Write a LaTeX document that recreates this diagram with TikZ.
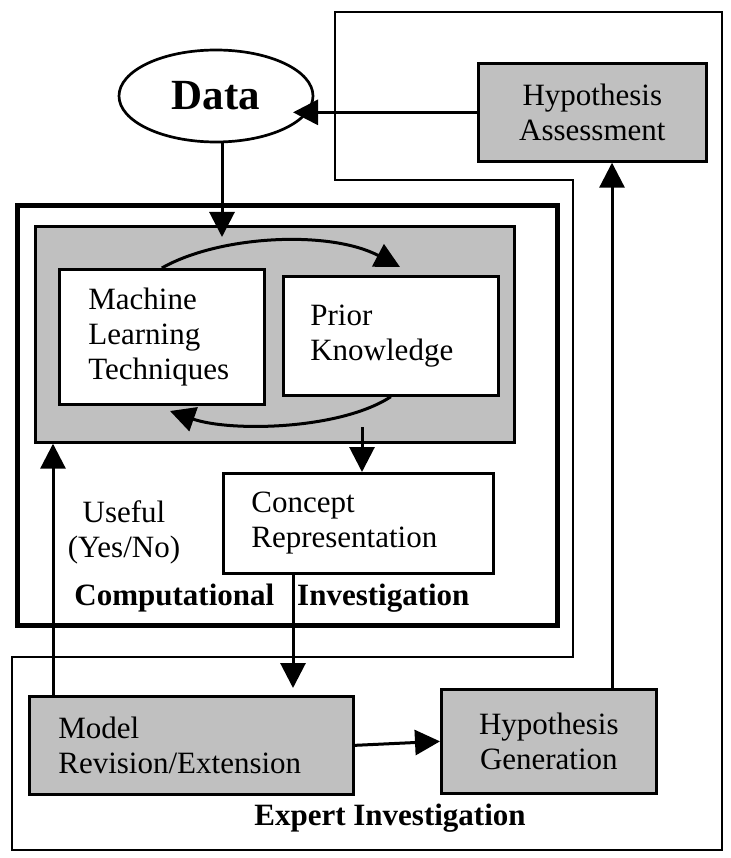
\documentclass[tikz,border=0pt]{standalone}
\usepackage{fontspec}
\setmainfont{Liberation Serif}
\usetikzlibrary{arrows.meta,shapes.geometric,calc}
\definecolor{boxgray}{RGB}{192,192,192}
\begin{document}
\begin{tikzpicture}[x=1pt,y=-1pt,
  txt/.style={font=\fontsize{31}{35}\selectfont},
  wbox/.style={draw, line width=2.7pt, fill=white, txt, inner ysep=0pt, anchor=north west},
  gbox/.style={wbox, fill=boxgray},
  arr/.style={line width=3pt, -{Triangle[length=25pt,width=25pt]}},
  lbl/.style={font=\fontsize{31}{36}\selectfont\bfseries}
]
\path[use as bounding box] (0,0) rectangle (730,858);

% outer boundary (expert investigation region)
\draw[line width=2.5pt] (335,12) -- (722,12) -- (722,850) -- (12,850) -- (12,657)
  -- (573,657) -- (573,180) -- (335,180) -- cycle;

% computational investigation box
\node (comp) [draw, line width=5pt, minimum width=540, minimum height=420,
  anchor=north west, inner sep=0] at (15,203) {};
% grey learning box
\node (ml) [draw, line width=2.7pt, fill=boxgray, minimum width=479, minimum height=216,
  anchor=north west, inner sep=0] at (34,225) {};

\node (data) [ellipse, draw, line width=2.7pt, fill=white, minimum width=194, minimum height=92,
  inner sep=0, font=\fontsize{43}{43}\selectfont\bfseries] at (216,96) {Data};

\node (ha) [gbox, text width=200, inner xsep=14, minimum height=98, align=center] at (477,62) {Hypothesis\\Assessment};
\node (mlt) [wbox, text width=147, inner xsep=29, minimum height=135, align=left] at (58,268) {Machine\\Learning\\Techniques};
\node (pk) [wbox, text width=161, inner xsep=27, minimum height=119, align=left] at (282,275) {Prior\\Knowledge};
\node (cr) [wbox, text width=214, inner xsep=28, minimum height=100, align=left] at (222,472) {Concept\\Representation};
\node (mr) [gbox, text width=266, inner xsep=29, minimum height=98, align=left] at (28,695) {Model\\Revision/Extension};
\node (hg) [gbox, text width=185, inner xsep=15, minimum height=104, align=center] at (440,688) {Hypothesis\\Generation};

\node (useful) [txt, align=center] at (124,532) {Useful\\(Yes/No)};
\node (ci) [lbl] at (272,598) {Computational\hspace{23pt}Investigation};
\node (ei) [lbl] at (390,818) {Expert Investigation};

% helper coordinates
\coordinate (datain) at (293,108);
\coordinate (mlin) at (222,237);
\coordinate (pkin) at (400,267);
\coordinate (mltin) at (170,411);
\coordinate (cfrom) at (362,427);
\coordinate (mrin) at (293,688);
\coordinate (mlup) at (53,0);
\coordinate (haup) at (612,0);

% connectors
\draw[arr] (ha.west) -- (ha.west -| datain);
\draw[arr] (data.south -| mlin) -- (mlin);
\draw[arr] (mlt.north) .. controls (220,235) and (330,230) .. (pkin);
\draw[arr] (pk.south) .. controls (340,430) and (230,432) .. (mltin);
\draw[arr] (cfrom) -- (cfrom |- cr.north);
\draw[arr] (cr.south -| mrin) -- (mrin);
\draw[arr] (mr.north -| mlup) -- (mlup |- ml.south);
\draw[arr] (mr.east) -- (hg.west);
\draw[arr] (hg.north -| haup) -- (haup |- ha.south);
\end{tikzpicture}
\end{document}
